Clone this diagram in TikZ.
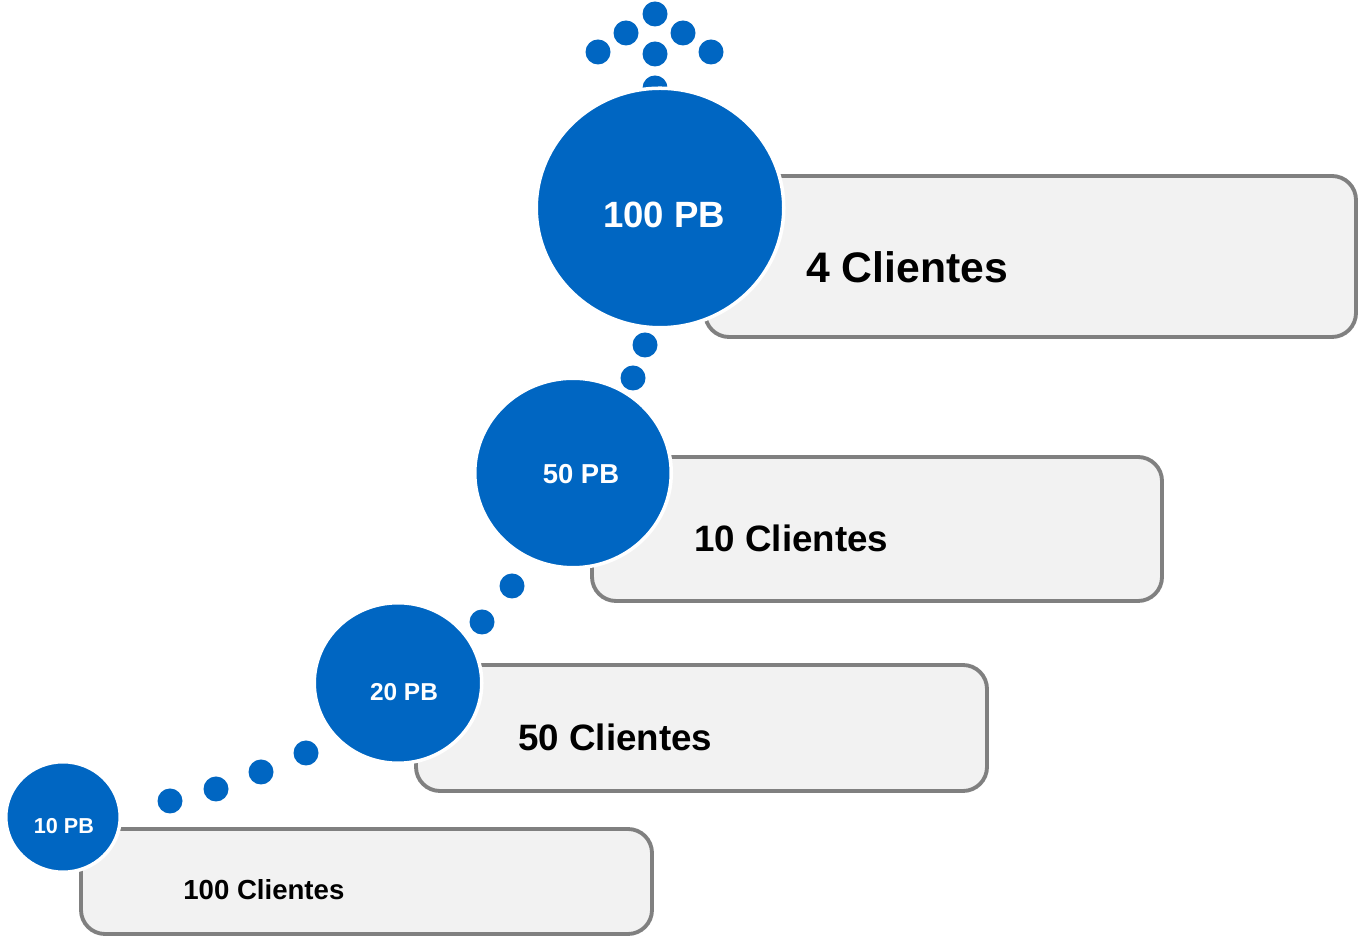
\documentclass[tikz,border=0pt]{standalone}
\usepackage{fontspec}
\setmainfont{Liberation Sans}
\usetikzlibrary{shapes.geometric}
\definecolor{pbblue}{RGB}{0,102,194}
\definecolor{boxgrey}{RGB}{242,242,242}
\definecolor{edgegrey}{RGB}{128,128,128}
\tikzset{
	tier/.style={draw=edgegrey, fill=boxgrey, line width=2.2pt, rounded corners=0.48cm},
	bubble/.style={ellipse, fill=pbblue, draw=white, line width=2pt, inner sep=0pt},
	dot/.style={fill=pbblue},
	pbtext/.style={text=white, inner sep=0pt, font=\bfseries\fontsize{#1}{#1}\selectfont},
	clitext/.style={anchor=west, inner sep=0pt, font=\bfseries\fontsize{#1}{#1}\selectfont}
}

\begin{document}
\begin{tikzpicture}
			%%%%% START %%%%%
			\useasboundingbox (0, 0) rectangle (27.28, 18.74);
			
			\draw[tier] (14.1, 12.0) rectangle (27.12, 15.22);
			\draw[tier] (11.84, 6.72) rectangle (23.24, 9.6);
			\draw[tier] (8.32, 2.92) rectangle (19.74, 5.44);
			\draw[tier] (1.62, 0.06) rectangle (13.04, 2.16);
			
			\fill[dot] (13.1, 18.46) circle (0.25);
			\fill[dot] (12.52, 18.08) circle (0.25);
			\fill[dot] (13.66, 18.08) circle (0.25);
			\fill[dot] (11.96, 17.7) circle (0.25);
			\fill[dot] (13.1, 17.66) circle (0.25);
			\fill[dot] (14.22, 17.7) circle (0.25);
			\fill[dot] (13.1, 16.98) circle (0.25);
			
			\fill[dot] (12.9, 11.84) circle (0.25);
			\fill[dot] (12.66, 11.18) circle (0.25);
			
			\fill[dot] (10.24, 7.02) circle (0.25);
			\fill[dot] (9.64, 6.3) circle (0.25);
			
			\fill[dot] (6.12, 3.68) circle (0.25);
			\fill[dot] (5.22, 3.3) circle (0.25);
			\fill[dot] (4.32, 2.96) circle (0.25);
			\fill[dot] (3.4, 2.72) circle (0.25);
			
			\node[bubble, minimum width=4.95cm, minimum height=4.79cm] (b100) at (13.2, 14.58) {};
			\node[bubble, minimum width=3.93cm, minimum height=3.79cm] (b50) at (11.46, 9.28) {};
			\node[bubble, minimum width=3.35cm, minimum height=3.21cm] (b20) at (7.96, 5.08) {};
			\node[bubble, minimum width=2.29cm, minimum height=2.21cm] (b10) at (1.26, 2.40) {};
			
			\node[pbtext=20.8pt] (t100) at (13.28, 14.44) {100 PB};
			\node[pbtext=15.6pt] (t50) at (11.62, 9.26) {50 PB};
			\node[pbtext=13.9pt] (t20) at (8.08, 4.9) {20 PB};
			\node[pbtext=12.3pt] (t10) at (1.28, 2.22) {10 PB};
			
			\node[clitext=24.3pt] (c4) at (16.12, 13.4) {4 Clientes};
			\node[clitext=20.9pt] (c10) at (13.88, 7.98) {10 Clientes};
			\node[clitext=20.9pt] (c50) at (10.36, 4.0) {50 Clientes};
			\node[clitext=15.7pt] (c100) at (3.66, 0.94) {100 Clientes};
			
			%%%%% END %%%%%
\end{tikzpicture}
\end{document}
